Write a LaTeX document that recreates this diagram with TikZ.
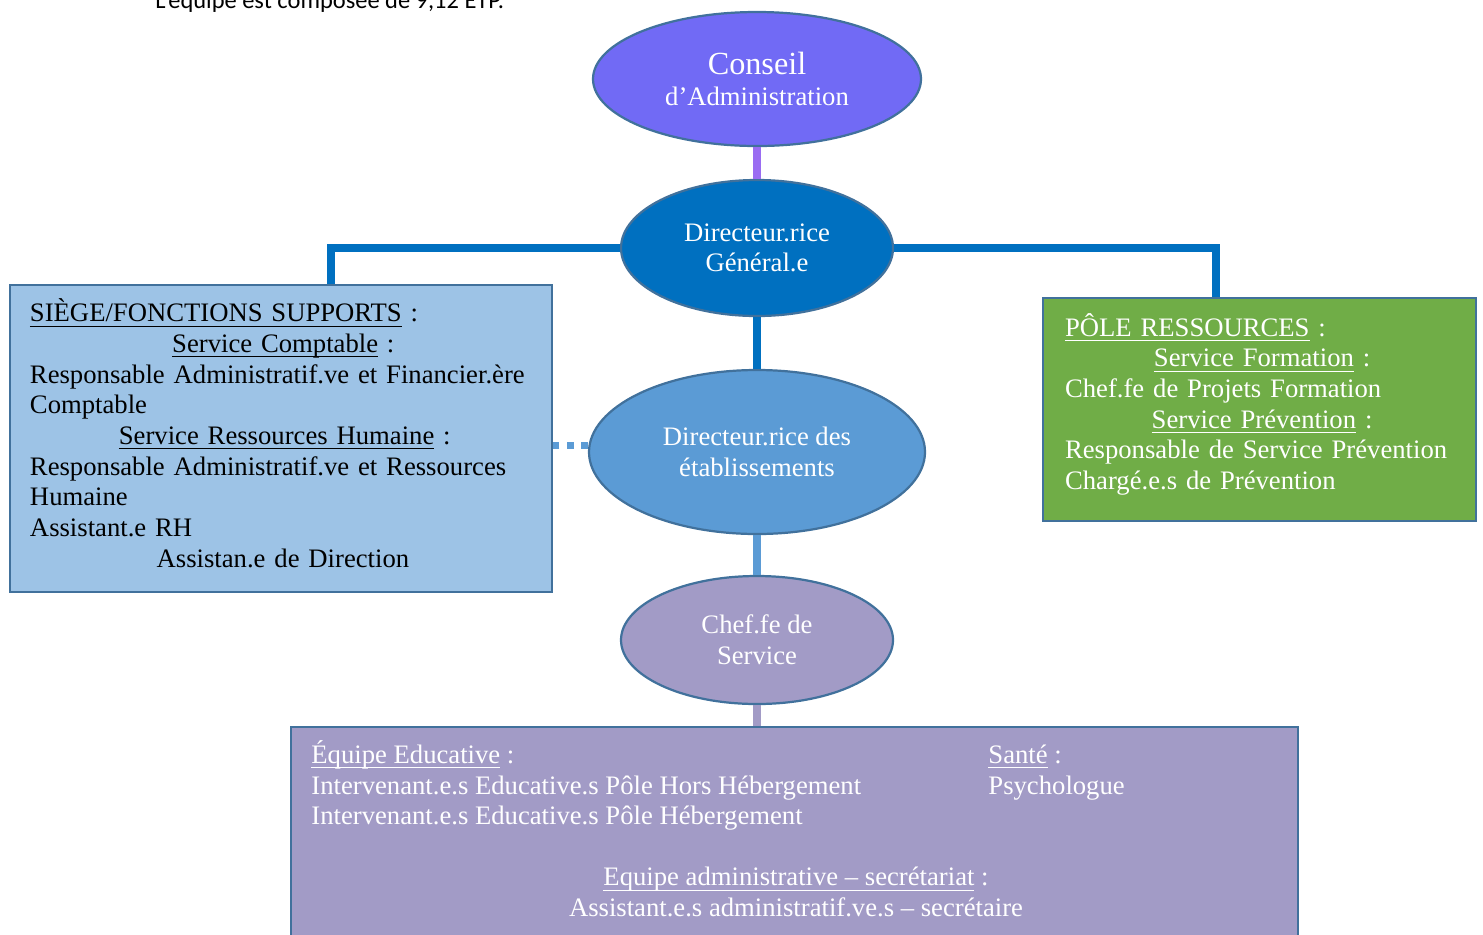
\documentclass[tikz,border=0pt]{standalone}
\usepackage{fontspec}
\setmainfont{Liberation Serif}
\newfontfamily\calibri{Carlito}
\usepackage{tikz}
\usetikzlibrary{shapes.geometric}
\usepackage{xcolor}

\definecolor{caFill}{HTML}{716AF5}
\definecolor{caLine}{HTML}{9A6CF2}
\definecolor{dgFill}{HTML}{0070C0}
\definecolor{deFill}{HTML}{5B9BD5}
\definecolor{chFill}{HTML}{A29BC6}
\definecolor{siegeFill}{HTML}{9DC3E6}
\definecolor{poleFill}{HTML}{70AD47}
\definecolor{edgeBlue}{HTML}{41719C}

\newcommand{\souligne}[1]{\underline{\smash{#1}\rule[-0.5pt]{0pt}{1pt}}}

\begin{document}
\begin{tikzpicture}[x=0.45pt, y=-0.45pt,
    txt/.style={font=\fontsize{12}{13.8}\selectfont},
    oval/.style={ellipse, draw=edgeBlue, line width=1pt, inner sep=0pt, text=white, align=center, txt},
    boite/.style={rectangle, draw=edgeBlue, line width=1pt, inner sep=0pt},
    texte/.style={txt, inner sep=0pt, align=left},
    lien/.style={line width=3.2pt}
]
\useasboundingbox (0,0) rectangle (1483,934);

\node[anchor=base west, inner sep=0pt, font=\calibri\fontsize{11}{13}\selectfont] (titre) at (155,8) {L’équipe est composée de 9,12 ETP.};

% ovales
\node[oval, fill=caFill, minimum width=147.6pt, minimum height=60.3pt] (ca) at (757,79)
    {{\fontsize{14.5}{16}\selectfont Conseil}\\d’Administration};
\node[oval, fill=dgFill, minimum width=122.4pt, minimum height=61.2pt] (dg) at (757,248)
    {Directeur.rice\\Général.e};
\node[oval, fill=deFill, minimum width=151.2pt, minimum height=73.8pt] (de) at (757,452)
    {Directeur.rice des\\établissements};
\node[oval, fill=chFill, minimum width=122.4pt, minimum height=57.6pt] (chef) at (757,640)
    {Chef.fe de\\Service};

% boites
\node[boite, fill=siegeFill, minimum width=243.9pt, minimum height=138.2pt] (siege) at (281,438.5) {};
\node[texte, text width=225.9pt] (siegetxt) at (siege.center) {%
\souligne{SIÈGE/FONCTIONS SUPPORTS} :\\
\hspace*{64pt}\souligne{Service Comptable} :\\
Responsable Administratif.ve et Financier.ère\\
Comptable\\
\hspace*{40pt}\souligne{Service Ressources Humaine} :\\
Responsable Administratif.ve et Ressources\\
Humaine\\
Assistant.e RH\\
\hspace*{57pt}Assistan.e de Direction};

\node[boite, fill=poleFill, minimum width=194.9pt, minimum height=100.4pt] (pole) at (1259.5,409.5) {};
\node[texte, text=white, text width=175pt] (poletxt) at (pole.center) {%
\souligne{PÔLE RESSOURCES} :\\
\hspace*{40pt}\souligne{Service Formation} :\\
Chef.fe de Projets Formation\\
\hspace*{39pt}\souligne{Service Prévention} :\\
Responsable de Service Prévention\\
Chargé.e.s de Prévention};

\node[boite, fill=chFill, anchor=north west, minimum width=453.2pt, minimum height=110pt] (equipe) at (290,726) {};
\node[texte, text=white, anchor=north west] (educ) at (311,740)
    {\souligne{Équipe Educative}\vphantom{É} :\\
     Intervenant.e.s Educative.s Pôle Hors Hébergement\\
     Intervenant.e.s Educative.s Pôle Hébergement};
\node[texte, text=white, anchor=north west] (sante) at (988,740)
    {\souligne{Santé}\vphantom{É} :\\Psychologue};
\node[texte, text=white, align=center] (admin) at (796,895)
    {\souligne{Equipe administrative -- secrétariat} :\\
     Assistant.e.s administratif.ve.s -- secrétaire};

% liaisons
\draw[lien, caLine] (ca.south) -- (dg.north);
\draw[lien, dgFill] (dg.west) -| ([xshift=22.5pt]siege.north);
\draw[lien, dgFill] (dg.east) -| ([xshift=-19.6pt]pole.north);
\draw[lien, dgFill] (dg.south) -- (de.north);
\draw[lien, deFill] (de.south) -- (chef.north);
\draw[lien, chFill] (chef.south) -- (equipe.north -| chef.south);
\draw[lien, deFill, dash pattern=on 3.2pt off 3.2pt] ([yshift=3pt]de.west) -- ([yshift=3pt]de.west -| siege.east);
\end{tikzpicture}
\end{document}
